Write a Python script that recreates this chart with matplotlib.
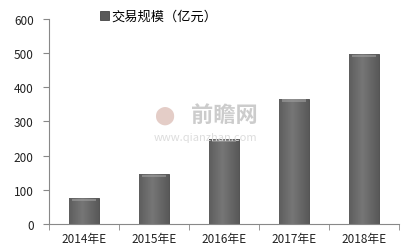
import matplotlib
matplotlib.use("Agg")
import matplotlib.pyplot as plt
import numpy as np

plt.rcParams['font.family'] = ['Noto Sans CJK SC', 'DejaVu Sans']

categories = ["2014年E", "2015年E", "2016年E", "2017年E", "2018年E"]
values = [76, 146, 248, 367, 498]
series_name = "交易规模（亿元）"
yticks = [0, 100, 200, 300, 400, 500, 600]

fig = plt.figure(figsize=(4.11, 2.51), dpi=100)
ax = fig.add_axes([0.119, 0.104, 0.852, 0.816])

x = np.arange(len(categories))
bars = ax.bar(x, values, width=0.42, color="#5a5a5a", edgecolor="#444444",
              linewidth=0.6, label=series_name, zorder=2)

# shaded body and light bevel at the top of each bar
grad = np.linspace(0, 1, 64).reshape(1, -1)
grad = 1 - np.abs(grad - 0.45) * 1.0
for b in bars:
    x0, w, h = b.get_x(), b.get_width(), b.get_height()
    im = ax.imshow(grad, extent=(x0, x0 + w, 0, h), aspect="auto",
                   cmap="Greys_r", vmin=-0.9, vmax=4.0, zorder=2.5)
    im.set_clip_path(b)
    ax.bar(x0 + w / 2, 7, bottom=h - 9, width=w * 0.8,
           color="#a0a0a0", alpha=0.6, linewidth=0, zorder=3)

# watermark
fig.text(0.40, 0.54, "⬤", fontsize=13, color="#d9b8b0", ha="center",
         va="center", family="DejaVu Sans", alpha=0.7)
fig.text(0.545, 0.54, "前瞻网", fontsize=16, color="#c4c4c4", ha="center",
         va="center", fontweight="bold", alpha=0.85)
fig.text(0.50, 0.45, "www.qianzhan.com", fontsize=8, color="#dddddd",
         ha="center", va="center")

ax.set_xlim(-0.5, len(categories) - 0.5)
ax.set_ylim(0, 600)
ax.set_yticks(yticks)
ax.set_xticks(x)
ax.set_xticklabels(categories)
ax.set_xticks(np.arange(-0.5, len(categories), 1.0), minor=True)
ax.tick_params(axis="x", which="major", length=0, pad=6, labelsize=8.5, colors="#222222")
ax.tick_params(axis="x", which="minor", length=4, color="#888888", direction="out")
ax.tick_params(axis="y", length=4, color="#888888", direction="out", pad=7,
               labelsize=8.5, labelcolor="#222222")

for s in ["top", "right"]:
    ax.spines[s].set_visible(False)
for s in ["left", "bottom"]:
    ax.spines[s].set_color("#888888")
    ax.spines[s].set_linewidth(0.8)

ax.legend(loc="upper left", bbox_to_anchor=(0.13, 1.07), frameon=False,
          fontsize=9.5, handlelength=0.7, handleheight=0.7, handletextpad=0.2,
          borderaxespad=0)

fig.savefig("out.png", dpi=100)
